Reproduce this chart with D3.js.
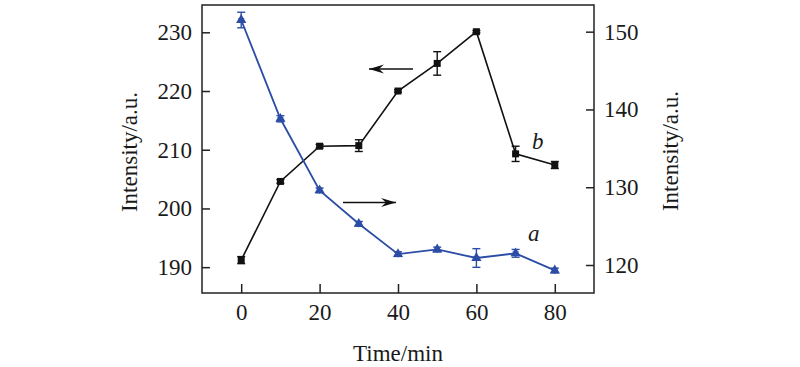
<!DOCTYPE html>
<html><head><meta charset="utf-8">
<script src="https://cdn.jsdelivr.net/npm/d3@7/dist/d3.min.js"></script>
<style>body{margin:0;background:#fff}svg{display:block}text{font-family:"Liberation Serif","Times New Roman",serif;fill:#1a1a1a}</style>
</head><body><svg id="c" width="800" height="367"></svg>
<script>
const times = [0, 10, 20, 30, 40, 50, 60, 70, 80];
const seriesB = [191.2, 204.6, 210.6, 210.7, 220.0, 224.7, 230.1, 209.3, 207.4];
const errB = [0.6, 0.3, 0.3, 1.0, 0.2, 2.0, 0.2, 1.3, 0.6];
const seriesA = [151.5, 138.8, 129.6, 125.3, 121.4, 122.0, 120.9, 121.5, 119.3];
const errA = [1.0, 0.4, 0.3, 0.3, 0.3, 0.3, 1.2, 0.5, 0.3];
const xTicks = [0, 20, 40, 60, 80];
const leftTicks = [190, 200, 210, 220, 230];
const rightTicks = [120, 130, 140, 150];

const svg = d3.select("#c");
const L = 202, R = 594, T = 5, B = 293;
const x = d3.scaleLinear().domain([-10, 90]).range([L, R]);
const yL = d3.scaleLinear().domain([185.6, 234.65]).range([B, T]);
const yR = d3.scaleLinear().domain([116.4, 153.43]).range([B, T]);
const blue = "#2c4da6", black = "#111";

// frame
svg.append("rect").attr("x", L).attr("y", T).attr("width", R - L).attr("height", B - T)
  .attr("fill", "none").attr("stroke", "#222").attr("stroke-width", 1.5);

const fs = 23;
const gx = svg.append("g").attr("transform", `translate(0,${B})`)
  .call(d3.axisBottom(x).tickValues(xTicks).tickSizeInner(-9).tickSizeOuter(0).tickPadding(11));
const gl = svg.append("g").attr("transform", `translate(${L},0)`)
  .call(d3.axisLeft(yL).tickValues(leftTicks).tickSizeInner(-8).tickSizeOuter(0).tickPadding(10));
const gr = svg.append("g").attr("transform", `translate(${R},0)`)
  .call(d3.axisRight(yR).tickValues(rightTicks).tickSizeInner(-8).tickSizeOuter(0).tickPadding(10));
[gx, gl, gr].forEach(g => {
  g.select(".domain").remove();
  g.selectAll(".tick line").attr("stroke", "#222").attr("stroke-width", 1.5);
  g.selectAll(".tick text").attr("font-size", fs).attr("font-family", "Liberation Serif").attr("fill", "#1a1a1a");
});

// labels
svg.append("text").attr("x", 398).attr("y", 361).attr("text-anchor", "middle").attr("font-size", fs).text("Time/min");
svg.append("text").attr("transform", "translate(137,152) rotate(-90)").attr("text-anchor", "middle").attr("font-size", fs).text("Intensity/a.u.");
svg.append("text").attr("transform", "translate(678,151) rotate(-90)").attr("text-anchor", "middle").attr("font-size", fs).text("Intensity/a.u.");

// series b
const lineB = d3.line().x((d, i) => x(times[i])).y(d => yL(d));
svg.append("path").datum(seriesB).attr("d", lineB).attr("fill", "none").attr("stroke", black).attr("stroke-width", 1.6);
// series a
const lineA = d3.line().x((d, i) => x(times[i])).y(d => yR(d));
svg.append("path").datum(seriesA).attr("d", lineA).attr("fill", "none").attr("stroke", blue).attr("stroke-width", 1.8);

function errBars(vals, errs, y, color) {
  const g = svg.append("g").attr("stroke", color).attr("stroke-width", 1.4);
  vals.forEach((v, i) => {
    const cx = x(times[i]), y1 = y(v + errs[i]), y2 = y(v - errs[i]);
    g.append("line").attr("x1", cx).attr("x2", cx).attr("y1", y1).attr("y2", y2);
    g.append("line").attr("x1", cx - 4).attr("x2", cx + 4).attr("y1", y1).attr("y2", y1);
    g.append("line").attr("x1", cx - 4).attr("x2", cx + 4).attr("y1", y2).attr("y2", y2);
  });
}
errBars(seriesB, errB, yL, black);
errBars(seriesA, errA, yR, blue);

svg.append("g").selectAll("rect").data(seriesB).join("rect")
  .attr("x", (d, i) => x(times[i]) - 3.5).attr("y", d => yL(d) - 3.5)
  .attr("width", 7).attr("height", 7).attr("fill", black);
svg.append("g").selectAll("path").data(seriesA).join("path")
  .attr("transform", (d, i) => `translate(${x(times[i])},${yR(d)})`)
  .attr("d", d3.symbol(d3.symbolTriangle, 45)).attr("fill", blue);
svg.append("g").selectAll("path").data(seriesA).join("path")
  .attr("transform", (d, i) => `translate(${x(times[i])},${yR(d)}) rotate(180)`)
  .attr("d", d3.symbol(d3.symbolTriangle, 18)).attr("fill", blue);

// arrows
function arrow(x1, x2, yy) {
  svg.append("line").attr("x1", x1).attr("x2", x2).attr("y1", yy).attr("y2", yy).attr("stroke", "#111").attr("stroke-width", 1.4);
  const dir = Math.sign(x2 - x1);
  svg.append("path").attr("d", `M${x2},${yy} L${x2 - dir * 15},${yy - 4.5} L${x2 - dir * 10},${yy} L${x2 - dir * 15},${yy + 4.5} Z`).attr("fill", "#111");
}
arrow(413, 369, 69);
arrow(343, 396, 202.5);

svg.append("text").attr("x", 532).attr("y", 149).attr("font-size", fs).attr("font-style", "italic").text("b");
svg.append("text").attr("x", 528).attr("y", 241).attr("font-size", fs).attr("font-style", "italic").text("a");
</script></body></html>
